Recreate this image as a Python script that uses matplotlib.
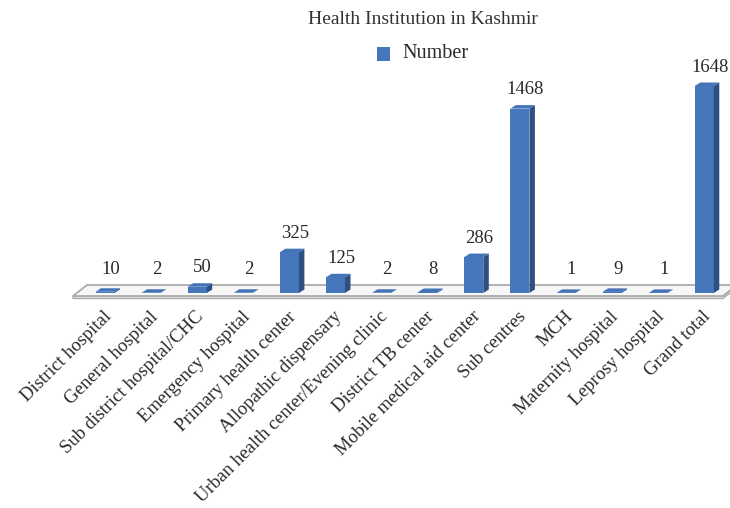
import matplotlib
matplotlib.use("Agg")
import matplotlib.pyplot as plt
from matplotlib.patches import Polygon, Rectangle
import numpy as np

categories = ["District hospital", "General hospital", "Sub district hospital/CHC",
              "Emergency hospital", "Primary health center", "Allopathic dispensary",
              "Urban health center/Evening clinic", "District TB center",
              "Mobile medical aid center", "Sub centres", "MCH", "Maternity hospital",
              "Leprosy hospital", "Grand total"]
values = [10, 2, 50, 2, 325, 125, 2, 8, 286, 1468, 1, 9, 1, 1648]
series_name = "Number"
title = "Health Institution in Kashmir"

W, H = 730, 508
DPI = 100
fig = plt.figure(figsize=(W / DPI, H / DPI), dpi=DPI)
ax = fig.add_axes([0, 0, 1, 1])
ax.set_axis_off()

# pixel geometry -> data scale
x0_px, step_px = 105.0, 46.1
base_px = 293.0
unit_per_px = 1648.0 / 207.0
ax.set_xlim(-x0_px / step_px, (W - x0_px) / step_px)
ax.set_ylim(-(H - base_px) * unit_per_px, base_px * unit_per_px)

FONT = "Liberation Serif"
TXT = "#2a2a2a"
front_c = "#4677BC"
side_c = "#2D4F82"
top_c = "#4473B8"
floor_edge = "#ababab"

bw = 19.0 / step_px          # bar front width
ddx = 5.5 / step_px          # depth in x
ddy = 3.5 * unit_per_px      # depth in y

# floor
fl_front = -3.0 * unit_per_px
fl_back = 8.0 * unit_per_px
fl_left = (73 - x0_px) / step_px
fl_right = (723 - x0_px) / step_px
skew = 14.0 / step_px
floor_top = Polygon([(fl_left, fl_front), (fl_right, fl_front),
                     (fl_right + skew, fl_back), (fl_left + skew, fl_back)],
                    closed=True, facecolor="#f7f7f7", edgecolor=floor_edge, lw=1.3, zorder=1)
ax.add_patch(floor_top)
thick = 2.5 * unit_per_px
floor_face = Polygon([(fl_left, fl_front), (fl_right, fl_front),
                      (fl_right + skew, fl_back), (fl_right + skew, fl_back - thick),
                      (fl_right, fl_front - thick), (fl_left, fl_front - thick)],
                     closed=True, facecolor="#e6e6e6", edgecolor=floor_edge, lw=1.0, zorder=0.9)
ax.add_patch(floor_face)

xs = np.arange(len(categories))
bars = ax.bar(xs, values, width=bw, color=front_c, zorder=3, linewidth=0)
for b, v in zip(bars, values):
    xl = b.get_x()
    xr = xl + b.get_width()
    side = Polygon([(xr, 0), (xr + ddx, ddy), (xr + ddx, v + ddy), (xr, v)],
                   closed=True, facecolor=side_c, edgecolor="none", zorder=3)
    top = Polygon([(xl, v), (xr, v), (xr + ddx, v + ddy), (xl + ddx, v + ddy)],
                  closed=True, facecolor=top_c, edgecolor="none", zorder=3)
    ax.add_patch(side)
    ax.add_patch(top)
    ly = max(v + ddy, fl_back)
    ax.annotate(str(v), (b.get_x() + bw / 2 + ddx, ly), xytext=(0, 5),
                textcoords="offset points", ha="center", va="bottom",
                fontsize=13.5, family=FONT, color=TXT, zorder=5)

# category labels
lab_y = -(314 - base_px) * unit_per_px
for x, c in zip(xs, categories):
    ax.text(x + 4.0 / step_px, lab_y, c, rotation=45, ha="right", va="center",
            rotation_mode="anchor", fontsize=13.5, family=FONT, color=TXT)

# title and legend
fig.text(423 / W, 1 - 20 / H, title, ha="center", va="center", fontsize=14,
         family=FONT, color="#333333")
fig.patches.append(Rectangle((377 / W, 1 - 61 / H), 13 / W, 14 / H,
                             transform=fig.transFigure, facecolor=front_c,
                             edgecolor="none", figure=fig))
fig.text(402 / W, 1 - 54 / H, series_name, ha="left", va="center", fontsize=14.5,
         family=FONT, color=TXT)

fig.savefig("out.png", dpi=DPI, facecolor="white")
